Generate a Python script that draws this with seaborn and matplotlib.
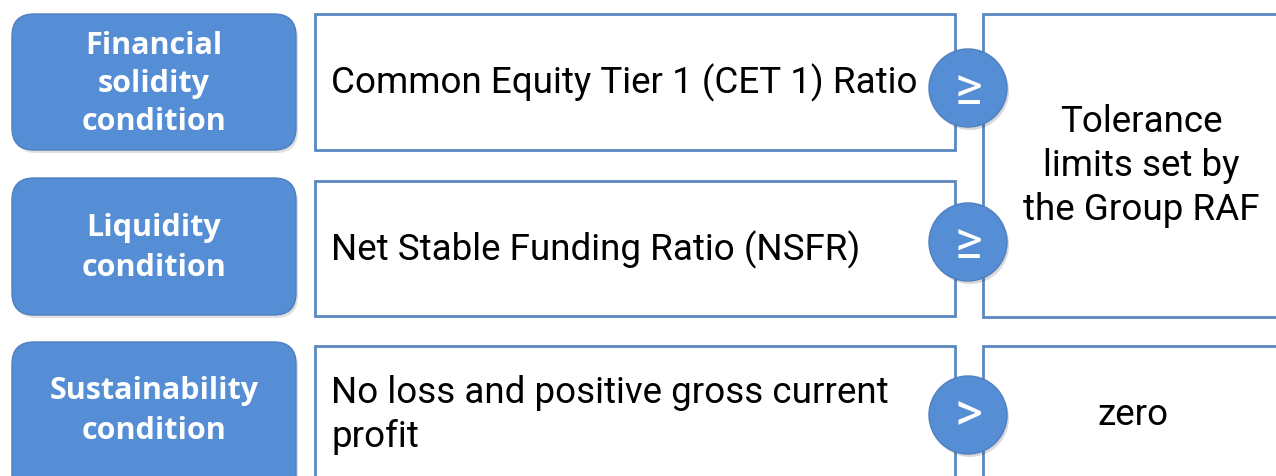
import matplotlib
matplotlib.use("Agg")
import matplotlib.pyplot as plt
import seaborn as sns
from matplotlib.patches import FancyBboxPatch, Rectangle, Circle

# diagram content
conditions = ["Financial\nsolidity\ncondition", "Liquidity\ncondition", "Sustainability\ncondition"]
metrics = ["Common Equity Tier 1 (CET 1) Ratio", "Net Stable Funding Ratio (NSFR)",
           "No loss and positive gross current\nprofit"]
operators = ["≥", "≥", ">"]
thresholds = ["Tolerance\nlimits set by\nthe Group RAF", "zero"]

sns.set_theme(style="white")
BLUE = "#558ed5"
EDGE = "#5b88c0"

fig = plt.figure(figsize=(12.76, 4.76), dpi=100)
ax = fig.add_axes([0, 0, 1, 1])
ax.set_xlim(0, 1276)
ax.set_ylim(476, 0)
ax.axis("off")

# row layout (pixel space): top, bottom of each row
left_rows = [(14, 150), (178, 315), (342, 500)]
mid_rows = [(14, 150), (181, 316), (346, 500)]
circle_y = [88, 242, 415]
left_text_y = [84, 248, 411]
left_spacing = [1.36, 1.45, 1.45]
mid_text_y = [83, 250, 415]

for i, cond in enumerate(conditions):
    t, b = left_rows[i]
    # shadow
    ax.add_patch(FancyBboxPatch((14, t + 3), 284, b - t, boxstyle="round,pad=0,rounding_size=22",
                                fc="#000000", ec="none", alpha=0.12, zorder=1))
    ax.add_patch(FancyBboxPatch((12, t), 284, b - t, boxstyle="round,pad=0,rounding_size=22",
                                fc=BLUE, ec="#4f7fc0", lw=1, zorder=2))
    ax.text(154, left_text_y[i], cond, ha="center", va="center", color="white",
            fontsize=22, fontweight="bold", family="Open Sans",
            linespacing=left_spacing[i], zorder=3)

for i, m in enumerate(metrics):
    t, b = mid_rows[i]
    ax.add_patch(Rectangle((315, t), 640, b - t, fc="white", ec=EDGE, lw=2, zorder=2))
    ax.text(331, mid_text_y[i], m, ha="left", va="center", color="black",
            fontsize=26.5, family="Roboto", linespacing=1.28, zorder=3)

# right boxes
ax.add_patch(Rectangle((983, 14), 400, 303, fc="white", ec=EDGE, lw=2, zorder=2))
ax.add_patch(Rectangle((983, 346), 400, 200, fc="white", ec=EDGE, lw=2, zorder=2))
ax.text(1141, 166, thresholds[0], ha="center", va="center", color="black",
        fontsize=26.5, family="Roboto", linespacing=1.27, zorder=3)
ax.text(1133, 415, thresholds[1], ha="center", va="center", color="black",
        fontsize=26.5, family="Roboto", zorder=3)

for i, op in enumerate(operators):
    cy = circle_y[i]
    ax.add_patch(Circle((970, cy + 3), 39, fc="black", ec="none", alpha=0.15, zorder=4))
    ax.add_patch(Circle((968, cy), 39, fc=BLUE, ec="#4f7fc0", lw=1, zorder=5))
    ax.text(968, cy + 1, op, ha="center", va="center", color="white",
            fontsize=38, family="Roboto", zorder=6)

fig.savefig("out.png", dpi=100)
